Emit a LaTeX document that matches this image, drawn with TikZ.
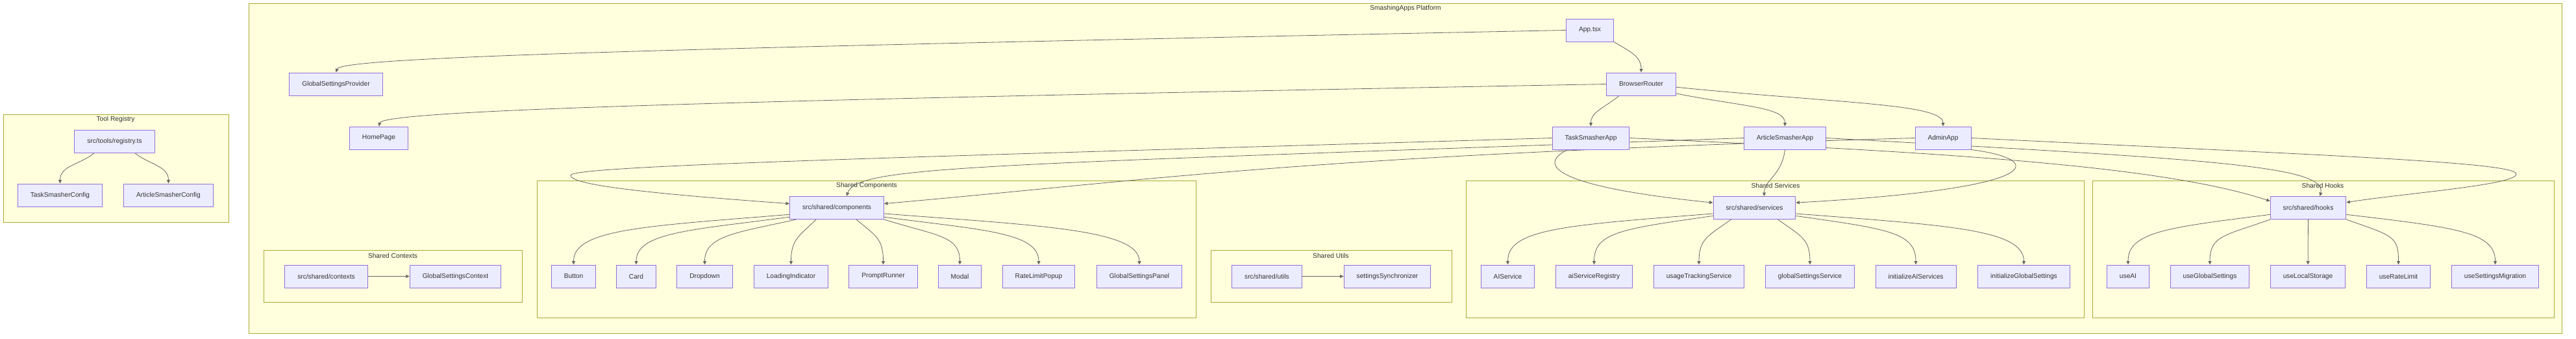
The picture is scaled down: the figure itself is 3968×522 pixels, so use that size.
\documentclass[tikz,border=0pt]{standalone}
\usepackage{fontspec}
\setmainfont{Liberation Sans}
\usetikzlibrary{arrows.meta}

\definecolor{nodefill}{HTML}{ECECFF}
\definecolor{nodeline}{HTML}{9370DB}
\definecolor{grpfill}{HTML}{FFFFDE}
\definecolor{grpline}{HTML}{AAAA33}
\definecolor{txt}{HTML}{333333}
\definecolor{wire}{HTML}{666666}

\pgfdeclarelayer{clusters}
\pgfdeclarelayer{edges}
\pgfsetlayers{clusters,edges,main}

\begin{document}
\begin{tikzpicture}[x=1pt,y=-1pt,
      font=\fontsize{10.2}{12}\selectfont, text=txt,
      mnode/.style={draw=nodeline,fill=nodefill,line width=1pt,minimum height=35pt,inner xsep=19.5pt,inner ysep=0pt},
      grp/.style={draw=grpline,fill=grpfill,line width=1pt},
      grplabel/.style={inner sep=0pt},
      arr/.style={draw=wire,line width=0.8pt,-{Triangle[length=5.5pt,width=5pt]}}]
    \useasboundingbox (0,0) rectangle (3968,522);

    % Tool Registry
    \node[mnode] (reg) at (176.5,217.5) {src/tools/registry.ts};
    \node[mnode] (tsc) at (92.5,300.5) {TaskSmasherConfig};
    \node[mnode] (asc) at (259.5,300.5) {ArticleSmasherConfig};

    % SmashingApps Platform
    \node[mnode] (app) at (2449,46.5) {App.tsx};
    \node[mnode] (gsp) at (517.5,129.5) {GlobalSettingsProvider};
    \node[mnode] (br) at (2528,129.5) {BrowserRouter};
    \node[mnode] (home) at (583.5,212.5) {HomePage};
    \node[mnode] (tsa) at (2450.5,212.5) {TaskSmasherApp};
    \node[mnode] (asa) at (2749.5,212.5) {ArticleSmasherApp};
    \node[mnode] (adm) at (2993,212.5) {AdminApp};

    % Shared Contexts
    \node[mnode] (ctx) at (502.5,425.5) {src/shared/contexts};
    \node[mnode] (gsc) at (701.5,425.5) {GlobalSettingsContext};

    % Shared Components
    \node[mnode] (comp) at (1289,320) {src/shared/components};
    \node[mnode] (btn) at (883.5,425.5) {Button};
    \node[mnode] (card) at (980,425.5) {Card};
    \node[mnode] (drop) at (1085.5,425.5) {Dropdown};
    \node[mnode] (li) at (1218.5,425.5) {LoadingIndicator};
    \node[mnode] (pr) at (1360.5,425.5) {PromptRunner};
    \node[mnode] (modal) at (1478.5,425.5) {Modal};
    \node[mnode] (rlp) at (1600,425.5) {RateLimitPopup};
    \node[mnode] (gspanel) at (1755,425.5) {GlobalSettingsPanel};

    % Shared Utils
    \node[mnode] (utl) at (1951.5,425.5) {src/shared/utils};
    \node[mnode] (sync) at (2137,425.5) {settingsSynchronizer};

    % Shared Services
    \node[mnode] (svc) at (2702.5,320) {src/shared/services};
    \node[mnode] (ais) at (2322.5,425.5) {AIService};
    \node[mnode] (asr) at (2455.5,425.5) {aiServiceRegistry};
    \node[mnode] (uts) at (2617,425.5) {usageTrackingService};
    \node[mnode] (gss) at (2788,425.5) {globalSettingsService};
    \node[mnode] (iais) at (2951,425.5) {initializeAIServices};
    \node[mnode] (igs) at (3117.5,425.5) {initializeGlobalSettings};

    % Shared Hooks
    \node[mnode] (hk) at (3555.5,320) {src/shared/hooks};
    \node[mnode] (useai) at (3278,425.5) {useAI};
    \node[mnode] (ugs) at (3404,425.5) {useGlobalSettings};
    \node[mnode] (uls) at (3555,425.5) {useLocalStorage};
    \node[mnode] (url) at (3694.5,425.5) {useRateLimit};
    \node[mnode] (usm) at (3843.5,425.5) {useSettingsMigration};

    \begin{pgfonlayer}{clusters}
      \fill[white] (0,0) rectangle (3968,522);
      \draw[grp] (5,176) rectangle (352,342);
      \node[grplabel] (regT) at (178,184) {Tool Registry};
      \draw[grp] (383,5) rectangle (3946,513);
      \node[grplabel] (platT) at (2165,13) {SmashingApps Platform};
      \draw[grp] (406,385) rectangle (804,465);
      \node[grplabel] (ctxT) at (605,394) {Shared Contexts};
      \draw[grp] (827,278) rectangle (1842,489);
      \node[grplabel] (compT) at (1335,286) {Shared Components};
      \draw[grp] (1865,385) rectangle (2236,465);
      \node[grplabel] (utlT) at (2050,394) {Shared Utils};
      \draw[grp] (2258,278) rectangle (3210,489);
      \node[grplabel] (svcT) at (2735,286) {Shared Services};
      \draw[grp] (3223,278) rectangle (3934,489);
      \node[grplabel] (hkT) at (3578,286) {Shared Hooks};
    \end{pgfonlayer}

    \begin{pgfonlayer}{edges}
      \draw[arr] (reg.210) to[out=220,in=90] (tsc.north);
      \draw[arr] (reg.-30) to[out=-40,in=90] (asc.north);

      \draw[arr] (app.west) .. controls (1000,75) and (525,88) .. (gsp.north);
      \draw[arr] (app.south east) .. controls +(25,15) and +(0,-25) .. (br.north);
      \draw[arr] (br.west) .. controls (1100,155) and (590,170) .. (home.north);
      \draw[arr] ([xshift=-34pt]br.south) .. controls +(-25,20) and +(0,-22) .. (tsa.north);
      \draw[arr] (br.-15) .. controls +(100,20) and +(0,-30) .. (asa.north);
      \draw[arr] (br.-5) .. controls +(250,25) and +(0,-35) .. (adm.north);

      % apps to shared
      \draw[arr] (tsa.west) .. controls (1400,242) and (879,255) .. (879,270)
                 .. controls (879,285) and (1000,298) .. (comp.175);
      \draw[arr] (asa.west) .. controls (1500,255) and (1320,255) .. ([xshift=15pt]comp.north);
      \draw[arr] (adm.west) .. controls (2000,240) and (1800,275) .. (comp.5);
      \draw[arr] ([xshift=-36pt]tsa.south) .. controls (2365,255) and (2400,288) .. (svc.173);
      \draw[arr] (asa.south) .. controls +(-5,40) and +(0,-25) .. ([xshift=15pt]svc.north);
      \draw[arr] (adm.south east) .. controls (3150,245) and (3160,290) .. (svc.7);
      \draw[arr] (tsa.east) .. controls (3000,235) and (3330,255) .. (hk.170);
      \draw[arr] (asa.east) .. controls (3400,245) and (3585,255) .. ([xshift=18pt]hk.north);
      \draw[arr] (adm.east) .. controls (3600,240) and (3876,250) .. (3876,268)
                 .. controls (3876,285) and (3700,298) .. (hk.8);

      % components
      \draw[arr] (comp.188) .. controls +(-220,18) and +(0,-55) .. (btn.north);
      \draw[arr] (comp.191) .. controls +(-150,20) and +(0,-50) .. (card.north);
      \draw[arr] (comp.196) .. controls +(-90,20) and +(0,-45) .. (drop.north);
      \draw[arr] ([xshift=-32pt]comp.south) .. controls +(-25,25) and +(0,-40) .. (li.north);
      \draw[arr] ([xshift=30pt]comp.south) .. controls +(30,25) and +(0,-40) .. (pr.north);
      \draw[arr] (comp.south east) .. controls +(80,25) and +(0,-45) .. (modal.north);
      \draw[arr] (comp.-11) .. controls +(150,20) and +(0,-50) .. (rlp.north);
      \draw[arr] (comp.-7) .. controls +(230,18) and +(0,-55) .. (gspanel.north);

      % contexts and utils
      \draw[arr] (ctx) -- (gsc);
      \draw[arr] (utl) -- (sync);

      % services
      \draw[arr] (svc.188) .. controls +(-230,18) and +(0,-55) .. (ais.north);
      \draw[arr] (svc.191) .. controls +(-140,20) and +(0,-50) .. (asr.north);
      \draw[arr] ([xshift=-36pt]svc.south) .. controls +(-35,25) and +(0,-40) .. (uts.north);
      \draw[arr] ([xshift=36pt]svc.south) .. controls +(35,25) and +(0,-40) .. (gss.north);
      \draw[arr] (svc.-11) .. controls +(140,20) and +(0,-50) .. (iais.north);
      \draw[arr] (svc.-8) .. controls +(230,18) and +(0,-55) .. (igs.north);

      % hooks
      \draw[arr] (hk.190) .. controls +(-160,20) and +(0,-50) .. (useai.north);
      \draw[arr] (hk.south west) .. controls +(-70,25) and +(0,-45) .. (ugs.north);
      \draw[arr] (hk) -- (uls);
      \draw[arr] (hk.south east) .. controls +(70,25) and +(0,-45) .. (url.north);
      \draw[arr] (hk.-10) .. controls +(170,20) and +(0,-50) .. (usm.north);
    \end{pgfonlayer}
\end{tikzpicture}
\end{document}
